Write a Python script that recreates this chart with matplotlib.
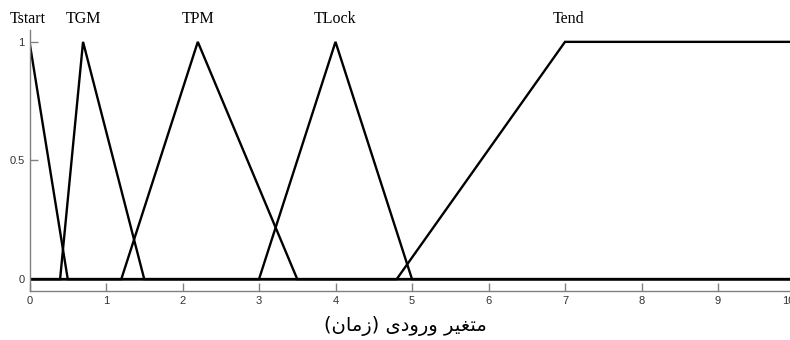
import numpy as np
import matplotlib
matplotlib.use("Agg")
import matplotlib.pyplot as plt
from matplotlib.transforms import ScaledTranslation

# fonctions d'appartenance (points de rupture)
mf_names = ["Tstart", "TGM", "TPM", "TLock", "Tend"]
mf_x = [[-0.5, 0.0, 0.5],
        [0.4, 0.7, 1.5],
        [1.2, 2.2, 3.5],
        [3.0, 4.0, 5.0],
        [4.8, 7.0, 10.0, 10.0]]
mf_y = [[0, 1, 0],
        [0, 1, 0],
        [0, 1, 0],
        [0, 1, 0],
        [0, 1, 1, 1]]
label_x = [-0.03, 0.7, 2.2, 4.0, 7.05]

x_ticks = [0, 1, 2, 3, 4, 5, 6, 7, 8, 9, 10]
y_ticks = [0, 0.5, 1]
y_tick_labels = ["0", "0.5", "1"]

# "متغیر ورودی (زمان)" en formes de présentation, ordre visuel
xlabel = ("(\uFEE5\uFE8E\uFEE3\uFEAF) "
          "\uFBFC\uFEA9\uFEED\uFEAD\uFEED "
          "\uFEAE\uFBFF\uFED0\uFE98\uFEE3")

fig = plt.figure(figsize=(7.9, 3.4), dpi=100)
ax = fig.add_axes([29.5 / 790, 49 / 340, 765 / 790, 261 / 340])

x = np.linspace(0, 10, 2001)
for name, px, py, lx in zip(mf_names, mf_x, mf_y, label_x):
    y = np.interp(x, px, py, left=py[0], right=py[-1])
    ax.plot(x, y, color="black", linewidth=1.7, solid_joinstyle="miter")
    ax.text(lx, 1.095, name, ha="center", va="center", fontsize=11.5,
            family="Liberation Serif", clip_on=False)

ax.set_xlim(0, 10)
ax.set_ylim(-0.05, 1.05)
ax.set_xticks(x_ticks)
ax.set_yticks(y_ticks)
ax.set_yticklabels(y_tick_labels)

ax.spines["top"].set_visible(False)
ax.spines["right"].set_visible(False)
for s in ["left", "bottom"]:
    ax.spines[s].set_color("#808080")
    ax.spines[s].set_linewidth(1.0)
ax.tick_params(direction="in", length=6, width=1.0, color="#808080",
               labelsize=8, labelcolor="#333333", pad=3.5)
for lab in ax.get_xticklabels() + ax.get_yticklabels():
    lab.set_family("Liberation Sans")
# le "10" est coupé au bord comme dans l'original
last = ax.get_xticklabels()[-1]
last.set_transform(last.get_transform() + ScaledTranslation(-6 / 100, 0, fig.dpi_scale_trans))

fig.text(405 / 790, 14 / 340, xlabel, ha="center", va="center",
         fontsize=14, family=["DejaVu Sans"])

fig.savefig("out.png", dpi=100)
